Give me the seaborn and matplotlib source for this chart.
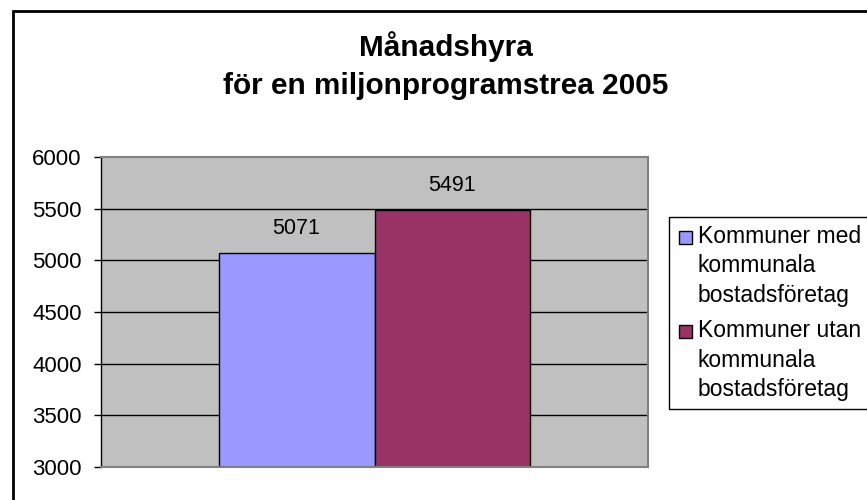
import matplotlib
matplotlib.use("Agg")
import matplotlib.pyplot as plt
import matplotlib.patches as mpatches
from matplotlib.legend_handler import HandlerPatch
import seaborn as sns
import pandas as pd

title_line1 = "Månadshyra"
title_line2 = "för en miljonprogramstrea 2005"
categories = ["Kommuner med\nkommunala\nbostadsföretag",
              "Kommuner utan\nkommunala\nbostadsföretag"]
values = [5071, 5491]
colors = ["#9999FF", "#993366"]
y_ticks = [3000, 3500, 4000, 4500, 5000, 5500, 6000]

sns.set_theme(style="white")
plt.rcParams["font.family"] = ["Liberation Sans", "DejaVu Sans"]
plt.rcParams["text.color"] = "black"
plt.rcParams["ytick.color"] = "black"
plt.rcParams["xtick.color"] = "black"

df = pd.DataFrame({"grp": ["2005"] * len(values), "serie": categories, "value": values})

fig = plt.figure(figsize=(8.67, 5.0), dpi=100)
W, H = 867, 500
ax = fig.add_axes([101 / W, 1 - 467 / H, (648 - 101) / W, (467 - 157) / H])

sns.barplot(data=df, x="grp", y="value", hue="serie", palette=colors,
            hue_order=categories, width=0.57, gap=0, dodge=True, saturation=1,
            edgecolor="black", linewidth=1.0, ax=ax, legend=False, errorbar=None)

ax.set_facecolor("#C0C0C0")
ax.set_ylim(3000, 6000)
ax.set_xlim(-0.5, 0.5)
ax.set_yticks(y_ticks)
ax.set_yticklabels([str(t) for t in y_ticks], fontsize=16, color="black")
ax.set_xticks([])
ax.set_xlabel("")
ax.set_ylabel("")
ax.tick_params(axis="y", direction="out", length=5, width=1, color="black", pad=9,
               left=True)
for y in y_ticks[1:-1]:
    ax.axhline(y, color="black", linewidth=1.0, zorder=0.5)
for side in ["top", "right", "bottom"]:
    ax.spines[side].set_color("#808080")
    ax.spines[side].set_linewidth(1.5)
ax.spines["left"].set_color("black")
ax.spines["left"].set_linewidth(1.0)

for cont in ax.containers:
    ax.bar_label(cont, labels=[str(int(v)) for v in cont.datavalues],
                 padding=10, fontsize=15.5, color="black")

# Legend
handles = [mpatches.Patch(facecolor=c, edgecolor="black", linewidth=1.0) for c in colors]
LEG_FS = 16.5
LINE_PT = 29.5 * 72 / 100.0


def top_patch(legend, orig_handle, xdescent, ydescent, width, height, fontsize):
    s = 13 * 72 / 100.0
    return mpatches.Rectangle((-xdescent + (width - s) / 2,
                               -ydescent + (height - s) / 2 + LINE_PT), s, s)


leg = fig.legend(handles, categories, loc="upper left",
                 bbox_to_anchor=(669 / W, 1 - 217 / H),
                 fontsize=LEG_FS, frameon=True, fancybox=False, edgecolor="black",
                 framealpha=1, facecolor="white", handlelength=0.7, handleheight=0.6,
                 handletextpad=0.2, borderpad=0.35, labelspacing=0.55,
                 borderaxespad=0,
                 handler_map={mpatches.Patch: HandlerPatch(patch_func=top_patch)})
leg.get_frame().set_linewidth(1.0)
for t in leg.get_texts():
    t.set_linespacing(1.35)
    t.set_color("black")

# Title
fig.text(446 / W, 1 - 47 / H, title_line1, ha="center", va="center",
         fontsize=21.4, fontweight="bold", color="black")
fig.text(446 / W, 1 - 86 / H, title_line2, ha="center", va="center",
         fontsize=21.4, fontweight="bold", color="black")

# Outer chart border (continues beyond image)
fig.patches.append(mpatches.Rectangle((13 / W, -0.1), 1.1, 1 - 11 / H + 0.1,
                                      transform=fig.transFigure, fill=False,
                                      edgecolor="black", linewidth=2.0))

fig.savefig("out.png", dpi=100)
